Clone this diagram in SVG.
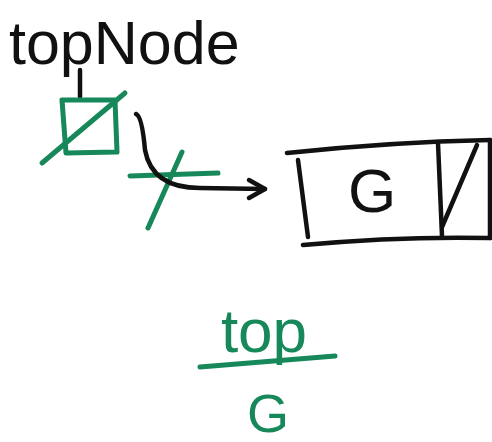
<svg xmlns="http://www.w3.org/2000/svg" width="492" height="442" viewBox="0 0 492 442">
<style>
.ink{fill:none;stroke:#111;stroke-width:4.5;stroke-linecap:round;stroke-linejoin:round}
.grn{fill:none;stroke:#17885a;stroke-width:5;stroke-linecap:round;stroke-linejoin:round}
.tb{fill:#111;font-family:"Liberation Sans",Arial,sans-serif}
.tg{fill:#17885a;font-family:"Liberation Sans",Arial,sans-serif}
</style>
<rect width="492" height="442" fill="#fff"/>
<g id="topNode-label">
<text class="tb" x="9" y="64" font-size="61">topNode</text>
<path class="ink" d="M80 70 L80 97"/>
</g>
<g id="topNode-box">
<path class="grn" d="M62 100 L115 100 L117 152 L66 153 Z"/>
<path class="grn" d="M42 163 L125 93"/>
</g>
<g id="null-cross">
<path class="grn" d="M130 176 L218 173"/>
<path class="grn" d="M148 228 L182 152"/>
</g>
<g id="G-node">
<path class="ink" d="M287 153 Q390 142 490 140"/>
<path class="ink" d="M303 245 Q400 236 490 238"/>
<path class="ink" d="M490 140 L490 238"/>
<path class="ink" d="M298 160 L308 237"/>
<path class="ink" d="M438 143 L442 236"/>
<path class="ink" d="M477 145 L442 227"/>
<text class="tb" x="372" y="212" font-size="62" text-anchor="middle">G</text>
</g>
<g id="connectors">
<path class="ink" d="M136 114 Q142 116 145 150 Q152 188 200 188 L265 189"/>
<path class="ink" d="M249 180 L265 189 L249 198"/>
</g>
<g id="fraction">
<text class="tg" x="264" y="352" font-size="62" text-anchor="middle">top</text>
<path class="grn" d="M200 367 L335 356"/>
<text class="tg" x="268" y="432" font-size="54" text-anchor="middle">G</text>
</g>
</svg>
